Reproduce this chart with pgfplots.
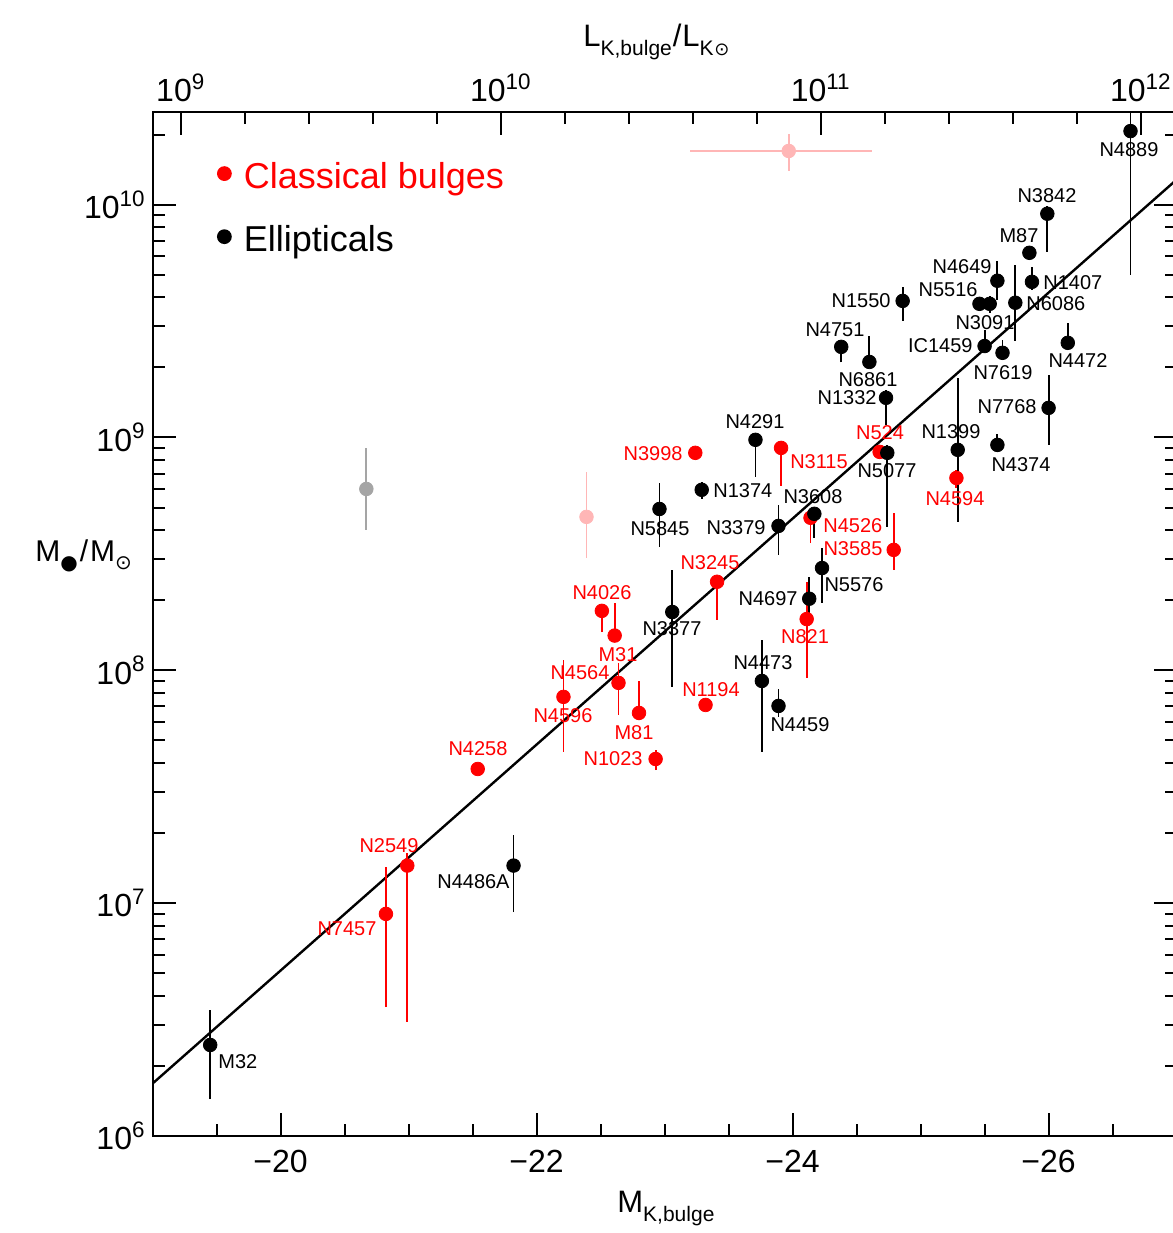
\documentclass[border=0pt]{standalone}
\usepackage{pgfplots}
\pgfplotsset{compat=1.18}
\usepackage{fontspec}
\setmainfont{Liberation Sans}
\newfontfamily\dejavu{DejaVu Sans}
\definecolor{pinkc}{RGB}{255,182,182}
\definecolor{grayc}{RGB}{165,165,165}
\definecolor{redc}{RGB}{255,0,0}
\newcommand{\lab}[5]{\node[anchor=#3, text=#4, inner sep=0pt, font=\fontsize{10}{12}\selectfont] at (#1,#2) {#5};}
\begin{document}
\begin{tikzpicture}
\useasboundingbox (-76.3pt,-48.5pt) rectangle (510.2pt,568pt);
\begin{axis}[
  width=512pt, height=512pt, scale only axis,
  x dir=reverse, xmin=-27, xmax=-19,
  ymode=log, ymin=1e6, ymax=2.5e10,
  xtick={-26,-24,-22,-20}, xticklabels={−26,−24,−22,−20},
  minor xtick={-26.5,-25.5,-25,-24.5,-23.5,-23,-22.5,-21.5,-21,-20.5,-19.5},
  xtick pos=left, xticklabel pos=left,
  ytick={1e6,1e7,1e8,1e9,1e10},
  yticklabels={10\textsuperscript{6},10\textsuperscript{7},10\textsuperscript{8},10\textsuperscript{9},10\textsuperscript{10}},
  minor ytick={2e6,3e6,4e6,5e6,6e6,7e6,8e6,9e6,2e7,3e7,4e7,5e7,6e7,7e7,8e7,9e7,2e8,3e8,4e8,5e8,6e8,7e8,8e8,9e8,2e9,3e9,4e9,5e9,6e9,7e9,8e9,9e9,2e10},
  ytick pos=both,
  tick align=inside,
  major tick length=11.5pt, minor tick length=6pt,
  every tick/.style={black, line width=1pt},
  axis line style={line width=1pt},
  ticklabel style={font=\fontsize{16}{19}\selectfont},
  xticklabel style={yshift=-3.5pt},
  legend style={draw=none, fill=none, at={(0.0625,0.951)}, anchor=north west,
    font=\fontsize{18}{21}\selectfont, row sep=17pt, inner sep=0pt,
    nodes={inner sep=0pt}, column sep=6pt},
  legend cell align=left,
  legend image code/.code={\fill[#1, draw=none] (0pt,1.75pt) circle (3.7pt);},
]
% fit line
\addplot[black, line width=1.2pt, forget plot] coordinates {(-19,1.68e6) (-27,1.28e10)};
% grey and pink points
\addplot[grayc, line width=0.95pt, forget plot] coordinates {(-20.67,4.01e8) (-20.67,9.02e8)};
\addplot[only marks, mark=*, mark size=3.4pt, grayc, forget plot] coordinates {(-20.67,6.01e8)};
\addplot[pinkc, line width=0.95pt, forget plot] coordinates {(-22.39,3.04e8) (-22.39,7.11e8)};
\addplot[pinkc, line width=0.95pt, forget plot] coordinates {(-23.97,1.40e10) (-23.97,2.01e10)};
\addplot[pinkc, line width=0.95pt, forget plot] coordinates {(-23.20,1.70e10) (-24.62,1.70e10)};
\addplot[only marks, mark=*, mark size=3.4pt, pinkc, forget plot] coordinates {(-22.39,4.56e8) (-23.97,1.70e10)};
% error bars: classical bulges
\addplot[redc, line width=0.95pt, forget plot, unbounded coords=jump] coordinates {
(-25.28,6.08e8) (-25.28,7.26e8) (-25.28,nan)
(-23.91,6.19e8) (-23.91,9.66e8) (-23.91,nan)
(-24.14,3.52e8) (-24.14,4.89e8) (-24.14,nan)
(-24.68,8.20e8) (-24.68,9.20e8) (-24.68,nan)
(-24.79,2.70e8) (-24.79,4.74e8) (-24.79,nan)
(-23.41,1.65e8) (-23.41,2.57e8) (-23.41,nan)
(-24.11,9.27e7) (-24.11,2.40e8) (-24.11,nan)
(-22.51,1.46e8) (-22.51,1.91e8) (-22.51,nan)
(-22.61,1.35e8) (-22.61,1.95e8) (-22.61,nan)
(-22.64,6.43e7) (-22.64,1.08e8) (-22.64,nan)
(-22.21,4.47e7) (-22.21,1.11e8) (-22.21,nan)
(-22.80,6.12e7) (-22.80,9.00e7) (-22.80,nan)
(-22.93,3.73e7) (-22.93,4.55e7) (-22.93,nan)
(-20.99,3.09e6) (-20.99,1.64e7) (-20.99,nan)
(-20.823,3.58e6) (-20.823,1.43e7) (-20.823,nan)
};
% error bars: ellipticals
\addplot[black, line width=0.95pt, forget plot, unbounded coords=jump] coordinates {
(-26.64,4.99e9) (-26.64,3.0e10) (-26.64,nan)
(-25.99,6.27e9) (-25.99,9.90e9) (-25.99,nan)
(-25.85,5.90e9) (-25.85,6.50e9) (-25.85,nan)
(-25.87,4.31e9) (-25.87,5.41e9) (-25.87,nan)
(-25.60,3.90e9) (-25.60,5.74e9) (-25.60,nan)
(-25.46,3.50e9) (-25.46,4.00e9) (-25.46,nan)
(-25.54,3.43e9) (-25.54,4.06e9) (-25.54,nan)
(-25.74,2.60e9) (-25.74,5.51e9) (-25.74,nan)
(-24.86,3.17e9) (-24.86,4.44e9) (-24.86,nan)
(-24.38,2.10e9) (-24.38,2.57e9) (-24.38,nan)
(-24.60,2.05e9) (-24.60,2.73e9) (-24.60,nan)
(-25.50,2.38e9) (-25.50,2.90e9) (-25.50,nan)
(-25.64,2.24e9) (-25.64,2.62e9) (-25.64,nan)
(-26.15,2.45e9) (-26.15,3.10e9) (-26.15,nan)
(-24.73,1.13e9) (-24.73,1.60e9) (-24.73,nan)
(-26.00,9.29e8) (-26.00,1.86e9) (-26.00,nan)
(-25.29,4.34e8) (-25.29,1.80e9) (-25.29,nan)
(-25.60,8.67e8) (-25.60,1.03e9) (-25.60,nan)
(-23.71,6.78e8) (-23.71,1.05e9) (-23.71,nan)
(-23.29,5.45e8) (-23.29,6.44e8) (-23.29,nan)
(-22.96,3.39e8) (-22.96,6.38e8) (-22.96,nan)
(-24.17,3.71e8) (-24.17,5.04e8) (-24.17,nan)
(-23.89,3.13e8) (-23.89,5.13e8) (-23.89,nan)
(-24.74,4.13e8) (-24.74,9.29e8) (-24.74,nan)
(-24.23,1.95e8) (-24.23,3.36e8) (-24.23,nan)
(-24.13,1.77e8) (-24.13,2.52e8) (-24.13,nan)
(-23.06,8.49e7) (-23.06,2.70e8) (-23.06,nan)
(-23.76,4.47e7) (-23.76,1.35e8) (-23.76,nan)
(-23.89,6.31e7) (-23.89,8.32e7) (-23.89,nan)
(-21.82,9.16e6) (-21.82,1.96e7) (-21.82,nan)
(-19.45,1.44e6) (-19.45,3.47e6) (-19.45,nan)
};
% classical bulges
\addplot[only marks, mark=*, mark size=3.4pt, redc, mark options={draw=redc, fill=redc}] coordinates {
(-25.28,6.70e8) (-23.24,8.59e8) (-23.91,9.02e8) (-24.14,4.52e8) (-24.68,8.67e8)
(-24.79,3.29e8) (-23.41,2.40e8) (-24.11,1.66e8) (-22.51,1.80e8) (-22.61,1.41e8)
(-22.64,8.83e7) (-22.21,7.69e7) (-22.80,6.56e7) (-22.93,4.16e7) (-23.32,7.10e7)
(-21.54,3.77e7) (-20.99,1.45e7) (-20.823,8.99e6)
};
\addlegendentry{\textcolor{redc}{Classical bulges}}
% ellipticals
\addplot[only marks, mark=*, mark size=3.4pt, black] coordinates {
(-26.64,2.07e10) (-25.99,9.14e9) (-25.85,6.21e9) (-25.87,4.66e9) (-25.60,4.71e9)
(-25.46,3.75e9) (-25.54,3.75e9) (-25.74,3.79e9) (-24.86,3.86e9) (-24.38,2.45e9)
(-24.60,2.11e9) (-25.50,2.47e9) (-25.64,2.31e9) (-26.15,2.55e9) (-24.73,1.48e9)
(-26.00,1.34e9) (-25.29,8.85e8) (-25.60,9.29e8) (-23.71,9.77e8) (-23.29,5.96e8)
(-22.96,4.93e8) (-24.17,4.70e8) (-23.89,4.17e8) (-24.74,8.59e8) (-24.23,2.75e8)
(-24.13,2.03e8) (-23.06,1.78e8) (-23.76,9.00e7) (-23.89,7.03e7) (-21.82,1.45e7)
(-19.45,2.46e6)
};
\addlegendentry{Ellipticals}
\end{axis}
\begin{axis}[
  width=512pt, height=512pt, scale only axis,
  xmin=8.912, xmax=12.112, ymin=0, ymax=1,
  hide y axis,
  xtick={9,10,11,12},
  xticklabels={10\textsuperscript{9},10\textsuperscript{10},10\textsuperscript{11},10\textsuperscript{12}},
  minor xtick={9.2,9.4,9.6,9.8,10.2,10.4,10.6,10.8,11.2,11.4,11.6,11.8},
  xtick pos=right, xticklabel pos=right,
  tick align=inside,
  major tick length=11.5pt, minor tick length=6pt,
  every tick/.style={black, line width=1pt},
  axis line style={line width=1pt},
  ticklabel style={font=\fontsize{16}{19}\selectfont},
  xticklabel style={yshift=1.5pt},
]
\end{axis}
\begin{scope}[x=0.5pt,y=-0.5pt,shift={(-76.3pt,568pt)}]
% axis titles
\node[anchor=base west, inner sep=0pt, font=\fontsize{15.5}{18}\selectfont] at (583,47) {L\raisebox{-4.5pt}{\fontsize{10.5}{11}\selectfont K,bulge}\kern0.5pt/\kern0.5ptL\raisebox{-4.5pt}{\fontsize{10.5}{11}\selectfont K\kern0.3pt{\dejavu\fontsize{9}{9}\selectfont ⊙}}};
\node[anchor=base west, inner sep=0pt, font=\fontsize{15.5}{18}\selectfont] at (617,1212) {M\raisebox{-4.5pt}{\fontsize{10.5}{11}\selectfont K,bulge}};
\node[anchor=base west, inner sep=0pt, font=\fontsize{15}{18}\selectfont] at (35,562) {M\raisebox{-3.8pt}{\dejavu\fontsize{10}{10}\selectfont ●}\kern1pt/\kern1ptM\raisebox{-4pt}{\dejavu\fontsize{10}{10}\selectfont ⊙}};
% black labels
\lab{1129}{150}{center}{black}{N4889}
\lab{1047}{196}{center}{black}{N3842}
\lab{1019}{236}{center}{black}{M87}
\lab{1043}{283}{west}{black}{N1407}
\lab{992}{267}{east}{black}{N4649}
\lab{978}{290}{east}{black}{N5516}
\lab{1026}{304}{west}{black}{N6086}
\lab{985}{323}{center}{black}{N3091}
\lab{891}{301}{east}{black}{N1550}
\lab{835}{330}{center}{black}{N4751}
\lab{973}{346}{east}{black}{IC1459}
\lab{1003}{373}{center}{black}{N7619}
\lab{1078}{361}{center}{black}{N4472}
\lab{868}{380}{center}{black}{N6861}
\lab{877}{398}{east}{black}{N1332}
\lab{1037}{407}{east}{black}{N7768}
\lab{951}{432}{center}{black}{N1399}
\lab{1021}{465}{center}{black}{N4374}
\lab{755}{422}{center}{black}{N4291}
\lab{887}{471}{center}{black}{N5077}
\lab{713}{491}{west}{black}{N1374}
\lab{813}{497}{center}{black}{N3608}
\lab{660}{529}{center}{black}{N5845}
\lab{766}{528}{east}{black}{N3379}
\lab{854}{585}{center}{black}{N5576}
\lab{798}{599}{east}{black}{N4697}
\lab{672}{629}{center}{black}{N3377}
\lab{763}{663}{center}{black}{N4473}
\lab{800}{725}{center}{black}{N4459}
\lab{510}{882}{east}{black}{N4486A}
\lab{218}{1062}{west}{black}{M32}
% red labels
\lab{955}{499}{center}{redc}{N4594}
\lab{683}{454}{east}{redc}{N3998}
\lab{819}{462}{center}{redc}{N3115}
\lab{880}{433}{center}{redc}{N524}
\lab{823}{526}{west}{redc}{N4526}
\lab{853}{549}{center}{redc}{N3585}
\lab{710}{563}{center}{redc}{N3245}
\lab{805}{637}{center}{redc}{N821}
\lab{602}{593}{center}{redc}{N4026}
\lab{618}{655}{center}{redc}{M31}
\lab{580}{673}{center}{redc}{N4564}
\lab{563}{716}{center}{redc}{N4596}
\lab{634}{733}{center}{redc}{M81}
\lab{643}{759}{east}{redc}{N1023}
\lab{711}{690}{center}{redc}{N1194}
\lab{478}{749}{center}{redc}{N4258}
\lab{389}{846}{center}{redc}{N2549}
\lab{347}{929}{center}{redc}{N7457}
\end{scope}
\end{tikzpicture}
\end{document}
